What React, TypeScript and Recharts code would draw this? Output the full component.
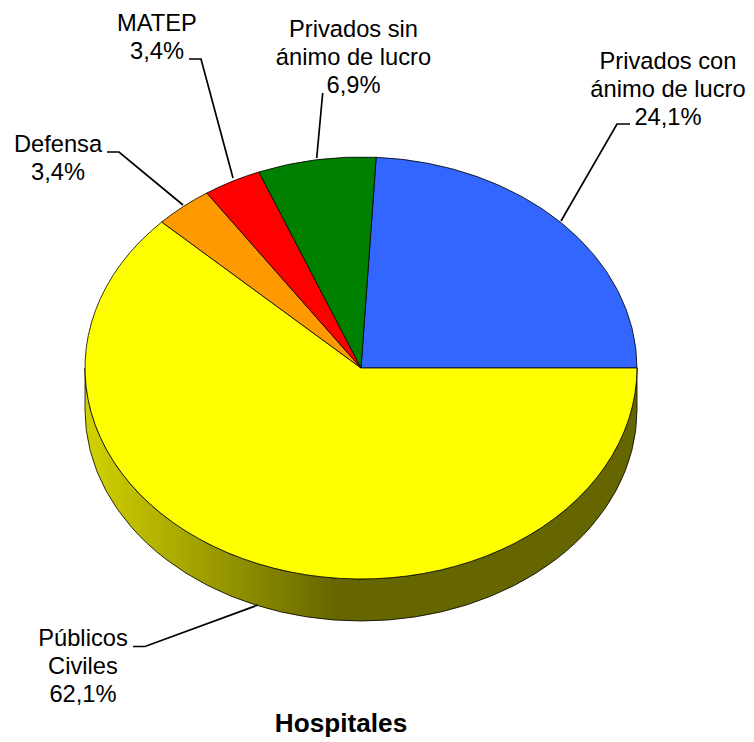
import React from "react";
import { PieChart, Pie } from "recharts";

const names = ["Privados con\nánimo de lucro", "Públicos\nCiviles", "Defensa", "MATEP", "Privados sin\nánimo de lucro"];
const shares = [24.1, 62.1, 3.4, 3.4, 6.9];
const colors = ["#3366ff", "#ffff00", "#ff9900", "#ff0000", "#008000"];
const rows = names.map((name, i) => ({ name, value: shares[i], fill: colors[i] }));

const FONT = "'Liberation Sans', Arial, sans-serif";
const FS = 23.7;
const RY_RATIO = 211 / 276;
const DEPTH = 42;
const LH = 27.8;

const labelLayout = [
  { x: 668, y: 69, line: "630,124 617,124 561,221" },
  { x: 83, y: 646, line: "133,646.5 145,646.5 258,605" },
  { x: 58, y: 152, line: "107,152 119,152 183,205" },
  { x: 157, y: 31, line: "189,59 201,59 233,178" },
  { x: 353.5, y: 37, line: "322.7,93 316.7,158" },
];

const rad = (d: number) => (d * Math.PI) / 180;

function EllipseSector(p: any) {
  const { cx, cy, outerRadius: r, startAngle: a0, endAngle: a1, fill } = p;
  const ry = r * RY_RATIO;
  const pt = (a: number, dy = 0) => `${cx + r * Math.cos(rad(a))} ${cy - ry * Math.sin(rad(a)) + dy}`;
  const large = Math.abs(a0 - a1) > 180 ? 1 : 0;
  const top = `M${cx} ${cy}L${pt(a0)}A${r} ${ry} 0 ${large} 1 ${pt(a1)}Z`;
  // The outer wall shows only on the front half of the disc (0 to -180 degrees).
  const wallStart = Math.min(a0, 0);
  const wallEnd = Math.max(a1, -180);
  const hasWall = wallStart > wallEnd;
  const wall = hasWall
    ? `M${pt(wallStart)}A${r} ${ry} 0 0 1 ${pt(wallEnd)}L${pt(wallEnd, DEPTH)}A${r} ${ry} 0 0 0 ${pt(wallStart, DEPTH)}Z`
    : "";
  return (
    <g>
      {hasWall && <path d={wall} fill="url(#wallShade)" stroke="#000" strokeWidth={0.8} />}
      <path d={top} fill={fill} stroke="#000" strokeWidth={0.8} strokeLinejoin="round" />
    </g>
  );
}

function SliceLabel(p: any) {
  const l = labelLayout[p.index];
  const lines = [...String(names[p.index]).split("\n"), shares[p.index].toFixed(1).replace(".", ",") + "%"];
  return (
    <g>
      <polyline points={l.line} fill="none" stroke="#000" strokeWidth={1.7} />
      {lines.map((t, i) => (
        <text key={i} x={l.x} y={l.y + i * LH} textAnchor="middle" fontFamily={FONT} fontSize={FS} fill="#000">
          {t}
        </text>
      ))}
    </g>
  );
}

export default function App() {
  return (
    <div style={{ position: "absolute", left: 0, top: 0, width: 754, height: 742, background: "#fff" }}>
      <PieChart width={754} height={742} margin={{ top: 0, right: 0, bottom: 0, left: 0 }}>
        <defs>
          <linearGradient id="wallShade" gradientUnits="userSpaceOnUse" x1={85} y1={0} x2={335} y2={0}>
            <stop offset="0" stopColor="#d2d200" />
            <stop offset="1" stopColor="#666600" />
          </linearGradient>
        </defs>
        <Pie
          data={rows}
          dataKey="value"
          nameKey="name"
          cx={361}
          cy={368}
          outerRadius={276}
          startAngle={86.85}
          endAngle={-273.15}
          shape={EllipseSector}
          label={SliceLabel}
          labelLine={false}
          isAnimationActive={false}
        />
        <text x={341} y={731.5} textAnchor="middle" fontFamily={FONT} fontSize={26.2} fontWeight="bold" fill="#000">
          Hospitales
        </text>
      </PieChart>
    </div>
  );
}
